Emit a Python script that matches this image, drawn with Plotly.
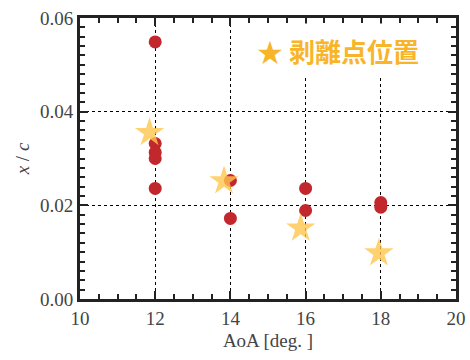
import plotly.graph_objects as go

# data
sep_aoa = [12, 12, 12, 12, 12, 14, 14, 16, 16, 18, 18]
sep_xc = [0.0549, 0.0332, 0.0313, 0.0300, 0.0236, 0.0253, 0.0172, 0.0236, 0.0189, 0.0206, 0.0196]
star_aoa = [11.85, 13.83, 15.87, 17.95]
star_xc = [0.0355, 0.0252, 0.0151, 0.0098]
x_ticks = [10, 12, 14, 16, 18, 20]
y_ticks = [0.00, 0.02, 0.04, 0.06]
y_labels = ["0.00", "0.02", "0.04", "0.06"]

font_serif = "Liberation Serif"

fig = go.Figure()
fig.add_trace(go.Scatter(
    x=sep_aoa, y=sep_xc, mode="markers",
    marker=dict(color="#C1272D", size=13, line=dict(width=0)),
    showlegend=False, cliponaxis=False))
fig.add_trace(go.Scatter(
    x=star_aoa, y=star_xc, mode="markers",
    marker=dict(symbol="star", color="#FFC54D", size=22, opacity=0.8, line=dict(width=0)),
    showlegend=False, cliponaxis=False))

axis_common = dict(
    showline=True, mirror="ticks", linecolor="#222", linewidth=3,
    ticks="inside", ticklen=8, tickwidth=2, tickcolor="#222",
    showgrid=True, gridcolor="black", griddash="dot", gridwidth=1,
    zeroline=False, automargin=False,
    tickfont=dict(family=font_serif, size=19, color="#444"),
)

fig.update_xaxes(
    range=[10, 20], tickvals=x_ticks, ticktext=[str(v) for v in x_ticks],
    minor=dict(dtick=0.5, ticks="inside", ticklen=5, tickwidth=2, tickcolor="#222", showgrid=False),
    title=dict(text="AoA [deg. ]", font=dict(family=font_serif, size=19, color="#444"), standoff=6),
    **axis_common)
fig.update_yaxes(
    range=[0, 0.06], tickvals=y_ticks, ticktext=y_labels,
    minor=dict(dtick=0.002, ticks="inside", ticklen=5, tickwidth=2, tickcolor="#222", showgrid=False),
    title=dict(text="<i>x</i> / <i>c</i>", font=dict(family=font_serif, size=19, color="#444"), standoff=6),
    **axis_common)

fig.add_annotation(
    x=0.686, y=0.886, xref="paper", yref="paper", showarrow=False,
    xanchor="center", yanchor="middle",
    text="<b>★ 剥離点位置</b>",
    font=dict(family="Noto Sans CJK JP", size=26, color="#F9B52A"),
    bgcolor="white", borderpad=8,
)

fig.update_layout(
    width=470, height=360,
    margin=dict(l=80, r=14, t=18, b=61),
    paper_bgcolor="white", plot_bgcolor="white",
)

fig.write_html("out.html", config={"displayModeBar": False},
               post_script="document.body.style.margin='0';")
